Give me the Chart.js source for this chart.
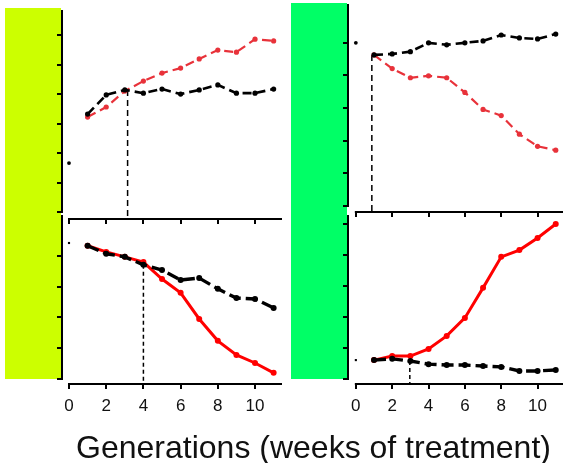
<!DOCTYPE html>
<html>
<head>
<meta charset="utf-8">
<script src="https://cdn.jsdelivr.net/npm/chart.js@4"></script>
<style>
  html, body { margin: 0; padding: 0; background: #fff; }
  #wrap { position: relative; width: 567px; height: 463px; overflow: hidden; }
  #wrap canvas { position: absolute; left: 0; top: 0; }
  .band { position: absolute; }
  #title {
    position: absolute; left: 0; width: 627px; top: 431px; text-align: center;
    font: 32px "Liberation Sans", Arial, sans-serif; line-height: 32px;
    white-space: nowrap; color: #111;
  }
</style>
</head>
<body>
<div id="wrap">
  <div class="band" style="left:5px;top:8px;width:56px;height:371px;background:#ccff00"></div>
  <div class="band" style="left:291px;top:3px;width:56px;height:376px;background:#00ff66"></div>
  <canvas id="tl" width="567" height="463"></canvas>
  <canvas id="bl" width="567" height="463"></canvas>
  <canvas id="tr" width="567" height="463"></canvas>
  <canvas id="br" width="567" height="463"></canvas>
  <div id="title">Generations (weeks of treatment)</div>
</div>
<script>
// Four panels, values in tick units (axes carry no labels).
const weeks = [1, 2, 3, 4, 5, 6, 7, 8, 9, 10, 11];
const xTicks = [0, 2, 4, 6, 8, 10];

// top left
const tlBlack = [3.32, 3.97, 4.14, 4.03, 4.17, 4.00, 4.14, 4.31, 4.03, 4.03, 4.17];
const tlRed = [3.22, 3.56, 4.10, 4.44, 4.71, 4.88, 5.19, 5.49, 5.42, 5.86, 5.80];
const tlStart = 1.66;
const tlSplit = [3.15, 4.14];
const tlYTicks = [0, 1, 2, 3, 4, 5, 6];

// bottom left
const blBlack = [4.33, 4.07, 3.97, 3.71, 3.54, 3.22, 3.28, 2.93, 2.63, 2.60, 2.31];
const blRed = [4.33, 4.13, 3.97, 3.80, 3.25, 2.80, 1.95, 1.24, 0.78, 0.52, 0.20];
const blStart = 4.42;
const blSplit = [4, 3.71];
const blYTicks = [0, 1, 2, 3, 4];

// top right
const trBlack = [4.63, 4.66, 4.73, 5.00, 4.94, 5.00, 5.06, 5.24, 5.15, 5.12, 5.27];
const trRed = [4.63, 4.21, 3.93, 3.99, 3.93, 3.48, 2.96, 2.77, 2.20, 1.83, 1.71];
const trStart = 5.0;
const trSplit = [0.88, 4.63];
const trYTicks = [0, 1, 2, 3, 4, 5];

// bottom right
const brBlack = [0.61, 0.65, 0.58, 0.48, 0.45, 0.45, 0.42, 0.39, 0.26, 0.26, 0.29];
const brRed = [0.61, 0.74, 0.74, 0.97, 1.39, 1.97, 2.94, 3.94, 4.16, 4.55, 5.00];
const brStart = 0.61;
const brSplit = [2.97, 0.58];
const brYTicks = [0, 1, 2, 3, 4, 5];

const W = 567, H = 463;
const FONT = '"Liberation Sans", Arial, sans-serif';

// R-style detached axis lines: y from the top down to its first tick, x from 0 to the right edge.
const rAxes = {
  id: "rAxes",
  beforeDatasetsDraw(chart) {
    const { ctx, chartArea: a, scales: { x, y } } = chart;
    ctx.save();
    ctx.strokeStyle = "#000";
    ctx.lineWidth = 2;
    ctx.beginPath();
    ctx.moveTo(a.left, a.top);
    ctx.lineTo(a.left, y.getPixelForValue(0) + 1);
    ctx.moveTo(x.getPixelForValue(0) - 1, a.bottom);
    ctx.lineTo(a.right, a.bottom);
    ctx.stroke();
    ctx.restore();
  },
};

function panel(id, o) {
  const pts = (ys) => weeks.map((w, i) => ({ x: w, y: ys[i] }));
  const xh = o.labels ? 40 : 8;
  const datasets = [
    {
      data: pts(o.black), order: 0,
      borderColor: "#000", backgroundColor: "#000", pointBackgroundColor: "#000",
      borderWidth: o.blackWidth, borderDash: o.blackDash,
      pointRadius: o.pr, pointBorderWidth: 0,
    },
    {
      data: pts(o.red), order: 1,
      borderColor: o.redColor, backgroundColor: o.redColor, pointBackgroundColor: o.redColor,
      borderWidth: o.redWidth, borderDash: o.redDash,
      pointRadius: o.pr, pointBorderWidth: 0,
    },
    {
      data: [{ x: 0, y: o.start }], order: 2, showLine: false,
      pointStyle: o.labels ? "rect" : "circle",
      pointRadius: o.labels ? 1.5 : 1.9, pointBorderWidth: 0, pointBackgroundColor: "#000",
    },
    {
      data: [{ x: o.split[0], y: o.split[1] }, { x: o.split[0], y: o.yMin }], order: 3,
      borderColor: "#000", borderWidth: 1.5, borderDash: o.splitDash, pointRadius: 0,
    },
  ];
  const grid = { drawOnChartArea: false, drawTicks: true, tickLength: 5, color: "#000", lineWidth: 2 };
  return new Chart(document.getElementById(id), {
    type: "line",
    data: { datasets },
    plugins: [rAxes],
    options: {
      responsive: false,
      animation: false,
      events: [],
      elements: { line: { tension: 0, borderCapStyle: "butt" } },
      layout: {
        padding: { left: o.area[0] - 8, top: o.area[1], right: W - o.area[2], bottom: H - o.area[3] - xh },
      },
      plugins: { legend: { display: false }, tooltip: { enabled: false } },
      scales: {
        x: {
          type: "linear", min: o.xMin, max: o.xMax,
          afterBuildTicks: (s) => { s.ticks = xTicks.map((v) => ({ value: v })); },
          afterFit: (s) => { s.height = xh; },
          border: { display: false },
          grid,
          ticks: {
            display: o.labels, autoSkip: false, maxRotation: 0, padding: 7,
            color: "#111", font: { family: FONT, size: 17 },
            callback: (v) => String(v),
          },
        },
        y: {
          type: "linear", min: o.yMin, max: o.yMax,
          afterBuildTicks: (s) => { s.ticks = o.yTicks.map((v) => ({ value: v })); },
          afterFit: (s) => { s.width = 8; },
          border: { display: false },
          grid,
          ticks: { display: false },
        },
      },
    },
  });
}

const topStyle = {
  labels: false, pr: 2.6, blackWidth: 2.6, blackDash: [9, 5],
  redColor: "#e8323a", redWidth: 2.2, redDash: [9, 5], splitDash: [6, 4],
};
const bottomStyle = {
  labels: true, pr: 3, blackWidth: 3.4, blackDash: [12, 5],
  redColor: "#ff0000", redWidth: 3, redDash: [], splitDash: [4, 3],
};

panel("tl", Object.assign({}, topStyle, {
  black: tlBlack, red: tlRed, start: tlStart, split: tlSplit, yTicks: tlYTicks,
  area: [62, 10, 282, 219], xMin: -0.376, xMax: 11.45, yMin: -0.237, yMax: 6.85,
}));
panel("bl", Object.assign({}, bottomStyle, {
  black: blBlack, red: blRed, start: blStart, split: blSplit, yTicks: blYTicks,
  area: [62, 215, 282, 384], xMin: -0.376, xMax: 11.45, yMin: -0.163, yMax: 5.33,
}));
panel("tr", Object.assign({}, topStyle, {
  black: trBlack, red: trRed, start: trStart, split: trSplit, yTicks: trYTicks,
  area: [348, 3, 567, 212], xMin: -0.432, xMax: 11.4, yMin: -0.183, yMax: 6.19,
}));
panel("br", Object.assign({}, bottomStyle, {
  black: brBlack, red: brRed, start: brStart, split: brSplit, yTicks: brYTicks,
  area: [348, 215, 567, 384], xMin: -0.432, xMax: 11.4, yMin: -0.161, yMax: 5.29,
}));
</script>
</body>
</html>
